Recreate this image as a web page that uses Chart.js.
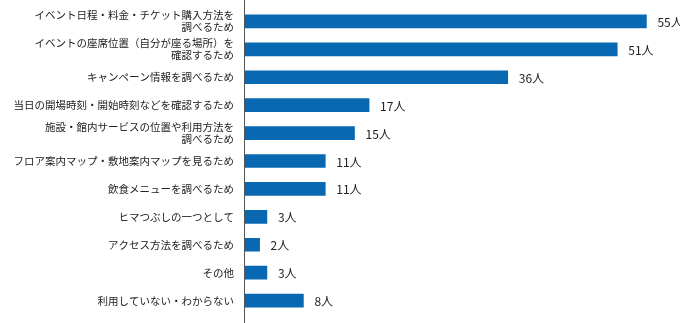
<!DOCTYPE html>
<html><head><meta charset="utf-8">
<script src="https://cdn.jsdelivr.net/npm/chart.js@4/dist/chart.umd.min.js"></script>
<style>html,body{margin:0;padding:0;background:#fff}#wrap{width:680px;height:323px}</style>
</head><body><div id="wrap"><canvas id="c" width="680" height="323"></canvas></div>
<script>
const categories = [
  ["イベント日程・料金・チケット購入方法を","調べるため"],
  ["イベントの座席位置（自分が座る場所）を","確認するため"],
  "キャンペーン情報を調べるため",
  "当日の開場時刻・開始時刻などを確認するため",
  ["施設・館内サービスの位置や利用方法を","調べるため"],
  "フロア案内マップ・敷地案内マップを見るため",
  "飲食メニューを調べるため",
  "ヒマつぶしの一つとして",
  "アクセス方法を調べるため",
  "その他",
  "利用していない・わからない"
];
const counts = [55, 51, 36, 17, 15, 11, 11, 3, 2, 3, 8];
const unit = "人";

const fontFamily = "'Noto Sans CJK JP', 'Noto Sans', sans-serif";

const valueLabels = {
  id: 'valueLabels',
  afterDatasetsDraw(chart) {
    const ctx = chart.ctx;
    const meta = chart.getDatasetMeta(0);
    ctx.save();
    ctx.font = "12px " + fontFamily;
    ctx.fillStyle = "#222";
    ctx.textAlign = "left";
    ctx.textBaseline = "middle";
    meta.data.forEach((bar, i) => {
      ctx.fillText(counts[i] + unit, bar.x + 11, bar.y + 1);
    });
    ctx.restore();
  }
};
const axisLine = {
  id: 'axisLine',
  afterDraw(chart) {
    const ctx = chart.ctx;
    const x = Math.round(chart.scales.x.getPixelForValue(0)) - 0.5;
    ctx.save();
    ctx.strokeStyle = "#555";
    ctx.lineWidth = 1;
    ctx.beginPath();
    ctx.moveTo(x, 0);
    ctx.lineTo(x, chart.height);
    ctx.stroke();
    ctx.restore();
  }
};

new Chart(document.getElementById('c'), {
  type: 'bar',
  data: {
    labels: categories,
    datasets: [{
      data: counts,
      backgroundColor: '#0868b2',
      borderWidth: 0,
      barThickness: 13
    }]
  },
  options: {
    indexAxis: 'y',
    responsive: false,
    animation: false,
    devicePixelRatio: 1,
    layout: { padding: { top: 7.5, bottom: 8.5, left: 0, right: 0 } },
    plugins: { legend: { display: false }, tooltip: { enabled: false } },
    scales: {
      x: {
        display: false,
        min: 0,
        max: 59.6
      },
      y: {
        grid: { display: false, drawTicks: false },
        border: { display: false },
        ticks: {
          padding: 11,
          color: '#222',
          font: { family: fontFamily, size: 10.5, lineHeight: 1.15 }
        },
        afterFit(scale) {
          scale.width = 245;
          scale.paddingTop = 0;
          scale.paddingBottom = 0;
        }
      }
    }
  },
  plugins: [valueLabels, axisLine]
});
</script>
</body></html>
